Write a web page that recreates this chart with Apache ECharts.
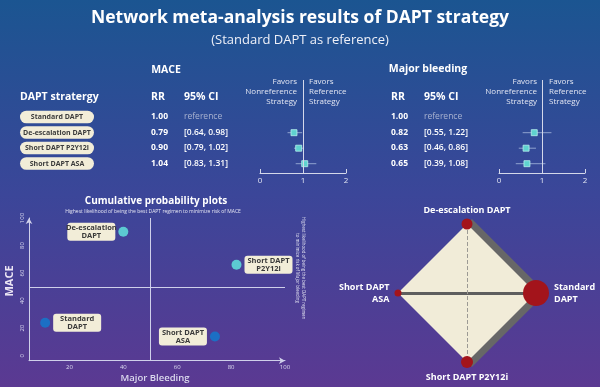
<!DOCTYPE html>
<html><head><meta charset="utf-8">
<script src="https://cdn.jsdelivr.net/npm/echarts@6/dist/echarts.min.js"></script>
<style>html,body{margin:0;padding:0;background:#2a4a94;}#c{width:600px;height:387px;}</style>
</head><body><div id="c"></div>
<script>
// ---------- data ----------
const categories = ['Standard DAPT', 'De-escalation DAPT', 'Short DAPT P2Y12i', 'Short DAPT ASA'];
const maceRR   = [1.00, 0.79, 0.90, 1.04];
const maceLow  = [null, 0.64, 0.79, 0.83];
const maceHigh = [null, 0.98, 1.02, 1.31];
const bleedRR   = [1.00, 0.82, 0.63, 0.65];
const bleedLow  = [null, 0.55, 0.46, 0.39];
const bleedHigh = [null, 1.22, 0.86, 1.08];
const forestTicks = [0, 1, 2];
const probBleeding = [11, 40, 82, 74];
const probMace     = [24, 90, 66, 14];
const scatterTicks = [0, 20, 40, 60, 80, 100];
const nodeWeight = [26, 11, 12, 7];
const networkEdges = [
  ['Standard DAPT', 'De-escalation DAPT', 'thick'],
  ['Standard DAPT', 'Short DAPT P2Y12i', 'thick'],
  ['Standard DAPT', 'Short DAPT ASA', 'medium'],
  ['De-escalation DAPT', 'Short DAPT P2Y12i', 'thin']
];

// ---------- layout / style ----------
const FONT = 'Open Sans';
const ROW0 = 117, ROWH = 15.5;
const rowY = i => ROW0 + ROWH * i;
const fmtCI = (lo, hi) => lo == null ? 'reference' : '[' + lo.toFixed(2) + ', ' + hi.toFixed(2) + ']';
const twoLine = s => { const k = s.lastIndexOf(' '); return s.slice(0, k) + '\n' + s.slice(k + 1); };

const chart = echarts.init(document.getElementById('c'));

function forestGrid(left) { return { left: left, top: 80, width: 86, height: 93 }; }
function forestX(gi) {
  return { gridIndex: gi, type: 'value', min: forestTicks[0], max: forestTicks[forestTicks.length - 1], interval: 1,
    axisLine: { show: true, onZero: false, lineStyle: { color: '#d4d8ea', width: 1 } },
    axisTick: { show: true, inside: true, length: 4, lineStyle: { color: '#d4d8ea' } },
    axisLabel: { color: '#e2e5f2', fontSize: 8, fontFamily: FONT, margin: 4 },
    splitLine: { show: false } };
}
function forestY(gi) {
  return { gridIndex: gi, type: 'value', inverse: true, min: -2.4, max: 3.6, show: false };
}
function forestSeries(gi, rr, lo, hi) {
  const wd = [], pd = [];
  rr.forEach((v, i) => { if (lo[i] != null) { wd.push([lo[i], hi[i], i]); pd.push([v, i]); } });
  return [
    { type: 'custom', xAxisIndex: gi, yAxisIndex: gi, data: wd, encode: { x: [0, 1], y: 2 }, silent: true,
      renderItem: (p, api) => {
        const a = api.coord([api.value(0), api.value(2)]);
        const b = api.coord([api.value(1), api.value(2)]);
        return { type: 'line', shape: { x1: a[0], y1: a[1], x2: b[0], y2: b[1] }, style: { stroke: '#8fa2cf', lineWidth: 1 } };
      } },
    { type: 'scatter', xAxisIndex: gi, yAxisIndex: gi, data: pd, symbol: 'rect', symbolSize: 6, z: 3,
      itemStyle: { color: '#5fd2cf', borderColor: '#b9f1ee', borderWidth: 0.8, opacity: 1 },
      markLine: { silent: true, symbol: 'none', label: { show: false },
        lineStyle: { color: '#d4d8ea', width: 1, type: 'solid' }, data: [{ xAxis: 1 }] } }
  ];
}

// network layout (diamond)
const nodeAngles = [0, 90, 270, 180];
const nodePos = nodeAngles.map(a => [Math.round(Math.cos(a * Math.PI / 180)), Math.round(Math.sin(a * Math.PI / 180))]);
const labelPosNet = ['right', 'top', 'bottom', 'left'];
const labelDistNet = [5, 2, 3, 5];
const scatterSide = ['right', 'left', 'right', 'left'];
const scatterColor = ['#1c6fc4', '#5ccad2', '#5ccad2', '#1c6fc4'];

const graphNodes = (showNodes) => categories.map((c, i) => ({
  name: c, value: nodePos[i],
  symbolSize: showNodes ? nodeWeight[i] : 0,
  label: showNodes ? { show: true, position: labelPosNet[i], distance: labelDistNet[i],
    formatter: (i === 0 || i === 3) ? twoLine(c) : c } : { show: false }
}));

const edgeStyle = {
  thick: { width: 14, color: '#676767', type: 'solid', opacity: 1 },
  medium: { width: 3, color: '#5e5e5e', type: 'solid', opacity: 1 },
  thin: { width: 1, color: '#9c9a94', type: 'dashed', opacity: 1 }
};

// ---------- table graphics ----------
const g = [];
const txt = (x, y, text, o) => g.push({ type: 'text', x: x, y: y, silent: true,
  style: Object.assign({ text: text, fill: '#ffffff', font: (o && o.font) || ('bold 10.5px ' + FONT),
    textAlign: (o && o.align) || 'left', textVerticalAlign: 'middle' }, o && o.style), rotation: (o && o.rot) || 0 });

txt(300, 18, 'Network meta-analysis results of DAPT strategy', { align: 'center', font: 'bold 17.5px ' + FONT });
txt(300, 40, '(Standard DAPT as reference)', { align: 'center', font: '13px ' + FONT, style: { fill: '#eef0f8' } });
txt(166, 70, 'MACE', { align: 'center' });
txt(428, 69, 'Major bleeding', { align: 'center' });
txt(20, 97, 'DAPT stratergy');
txt(151, 97, 'RR'); txt(184, 97, '95% CI');
txt(391, 97, 'RR'); txt(424, 97, '95% CI');

const favL = ['Favors', 'Nonreference', 'Strategy'], favR = ['Favors', 'Reference', 'Strategy'];
[[297, 309], [537, 549]].forEach(([xl, xr]) => {
  favL.forEach((t, k) => txt(xl, 82 + 10 * k, t, { align: 'right', font: '8px ' + FONT, style: { fill: '#e2e5f2' } }));
  favR.forEach((t, k) => txt(xr, 82 + 10 * k, t, { font: '8px ' + FONT, style: { fill: '#e2e5f2' } }));
});

categories.forEach((c, i) => {
  const y = rowY(i);
  g.push({ type: 'rect', silent: true, shape: { x: 20, y: y - 6.3, width: 74, height: 12.6, r: 6.3 }, style: { fill: '#f2edd8' } });
  txt(57, y, c, { align: 'center', font: 'bold 7px ' + FONT, style: { fill: '#3b3b3b' } });
  txt(151, y, maceRR[i].toFixed(2), { font: 'bold 8.5px ' + FONT });
  txt(184, y, fmtCI(maceLow[i], maceHigh[i]), { font: (i ? '600 ' : '') + '8.5px ' + FONT, style: { fill: i ? '#ffffff' : '#a9b3d0' } });
  txt(391, y, bleedRR[i].toFixed(2), { font: 'bold 8.5px ' + FONT });
  txt(424, y, fmtCI(bleedLow[i], bleedHigh[i]), { font: (i ? '600 ' : '') + '8.5px ' + FONT, style: { fill: i ? '#ffffff' : '#a9b3d0' } });
});

// scatter panel texts
txt(156, 201, 'Cumulative probability plots', { align: 'center', font: 'bold 10px ' + FONT });
txt(153, 212, 'Highest likelihood of being the best DAPT regimen to minimize risk of MACE', { align: 'center', font: '5px ' + FONT, style: { fill: '#e4e4f2' } });
txt(10, 281, 'MACE', { align: 'center', font: 'bold 11px ' + FONT, rot: Math.PI / 2, style: { fill: '#ece6f4' } });
txt(155, 378, 'Major Bleeding', { align: 'center', font: '600 9.5px ' + FONT, style: { fill: '#dcdaee' } });
txt(300.5, 268, 'Highest likelihood of being the best DAPT regimen\nto minimize risk of Major bleeding',
  { align: 'center', font: '4.4px ' + FONT, rot: -Math.PI / 2, style: { fill: '#e4e4f2', lineHeight: 6 } });

const option = {
  backgroundColor: new echarts.graphic.LinearGradient(0, 0, 0, 1, [
    { offset: 0, color: '#1b5591' }, { offset: 0.5, color: '#3b4699' }, { offset: 1, color: '#5b3992' }]),
  animation: false,
  textStyle: { fontFamily: FONT },
  grid: [forestGrid(260), forestGrid(499),
    { left: 29, top: 218, width: 256, height: 142.7 },
    { left: 398, top: 224, width: 138, height: 138 }],
  xAxis: [forestX(0), forestX(1),
    { gridIndex: 2, type: 'value', min: 5, max: 100,
      axisLine: { show: true, onZero: false, symbol: ['none', 'arrow'], symbolSize: [5, 6], lineStyle: { color: '#cfd0ea', width: 1 } },
      axisTick: { show: false }, splitLine: { show: false },
      axisLabel: { customValues: scatterTicks.slice(1), color: '#dcdcf0', fontSize: 6, margin: 4, fontFamily: FONT } },
    { gridIndex: 3, type: 'value', min: -1, max: 1, show: false }],
  yAxis: [forestY(0), forestY(1),
    { gridIndex: 2, type: 'value', min: -3.6, max: 100,
      axisLine: { show: true, onZero: false, symbol: ['none', 'arrow'], symbolSize: [5, 6], lineStyle: { color: '#cfd0ea', width: 1 } },
      axisTick: { show: false }, splitLine: { show: false },
      axisLabel: { customValues: scatterTicks, rotate: 90, color: '#dcdcf0', fontSize: 6, margin: 4, fontFamily: FONT } },
    { gridIndex: 3, type: 'value', min: -1, max: 1, show: false }],
  series: [
    ...forestSeries(0, maceRR, maceLow, maceHigh),
    ...forestSeries(1, bleedRR, bleedLow, bleedHigh),
    { type: 'scatter', xAxisIndex: 2, yAxisIndex: 2, symbolSize: 10, z: 3,
      data: categories.map((c, i) => ({ name: c, value: [probBleeding[i], probMace[i]],
        itemStyle: { color: scatterColor[i], opacity: 1 },
        label: { show: true, position: scatterSide[i], distance: 3, opacity: 1,
          formatter: () => twoLine(c).split('\n').map(s => '{t|' + s + '}').join('\n'),
          backgroundColor: '#f2edd8', borderRadius: 3, padding: [1, 4],
          rich: { t: { width: 40, align: 'center', color: '#3a3a3a', fontWeight: 'bold', fontSize: 7.5, lineHeight: 8, fontFamily: FONT } } } })),
      markLine: { silent: true, symbol: 'none', label: { show: false },
        lineStyle: { color: '#cfd0ea', width: 1, type: 'solid' }, data: [{ xAxis: 50 }, { yAxis: 50 }] } },
    // network: thick edges below fill
    { type: 'graph', coordinateSystem: 'cartesian2d', xAxisIndex: 3, yAxisIndex: 3, layout: 'none', z: 1, silent: true,
      data: graphNodes(false),
      links: networkEdges.filter(e => e[2] === 'thick').map(e => ({ source: e[0], target: e[1], lineStyle: edgeStyle[e[2]] })) },
    { type: 'custom', xAxisIndex: 3, yAxisIndex: 3, z: 2, silent: true, data: [[0, 0]],
      renderItem: (p, api) => ({ type: 'polygon',
        shape: { points: [0, 1, 3, 2].map(k => api.coord(nodePos[k])) },
        style: { fill: '#f1ecd8' } }) },
    { type: 'graph', coordinateSystem: 'cartesian2d', xAxisIndex: 3, yAxisIndex: 3, layout: 'none', z: 3, silent: true,
      itemStyle: { color: '#a3141b', opacity: 1 },
      label: { color: '#ffffff', fontWeight: 'bold', fontSize: 9, lineHeight: 12, fontFamily: FONT },
      data: graphNodes(true),
      links: networkEdges.filter(e => e[2] !== 'thick').map(e => ({ source: e[0], target: e[1], lineStyle: edgeStyle[e[2]] })) }
  ],
  graphic: g
};
chart.setOption(option);
</script></body></html>
